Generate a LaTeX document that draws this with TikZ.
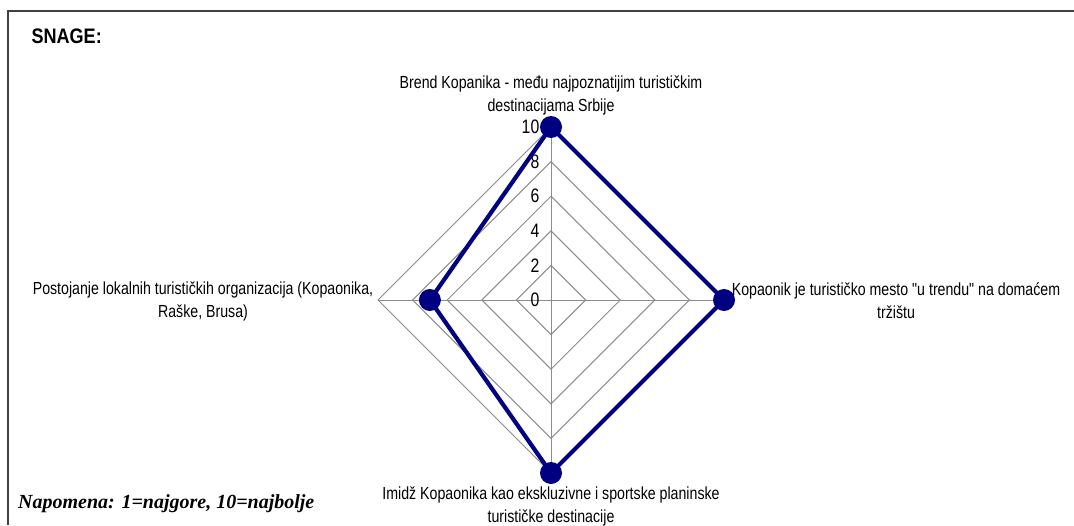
\documentclass[tikz,border=0pt]{standalone}
\usepackage{fontspec}
\newfontfamily\chartsans[FakeStretch=0.81]{Liberation Sans}
\newfontfamily\titlesans[FakeStretch=0.86]{Liberation Sans Bold}
\newfontfamily\noteserif{Liberation Serif}
\definecolor{navyline}{RGB}{0,0,128}
\definecolor{gridgray}{RGB}{140,140,140}
\definecolor{framegray}{RGB}{64,64,64}
\begin{document}
\begin{tikzpicture}[x=1pt,y=-1pt,
  gridline/.style={draw=gridgray, line width=1pt},
  series/.style={draw=navyline, line width=4.2pt, line join=round},
  marker/.style={circle, fill=navyline, inner sep=0pt, minimum size=22pt},
  catlabel/.style={font=\chartsans\fontsize{17.5}{23}\selectfont, align=center, inner sep=0pt},
  ticklabel/.style={font=\chartsans\fontsize{19.5}{19.5}\selectfont, anchor=east, inner sep=0pt},
]
\useasboundingbox (0,0) rectangle (1074,525);
% open frame: left and top edges only
\draw[framegray, line width=2pt] (8.3,525) -- (8.3,11) -- (1074,11);

\node[font=\titlesans\fontsize{21}{21}\selectfont, anchor=base east, inner sep=0pt] (title) at (102,43.3) {SNAGE:};

\begin{scope}[shift={(551,300)}]
  % radar grid, one diamond every 2 units (17.3pt per unit)
  \foreach \k in {2,4,6,8,10}{
    \pgfmathsetmacro\r{17.3*\k}
    \draw[gridline] (0,-\r) -- (\r,0) -- (0,\r) -- (-\r,0) -- cycle;
  }
  \draw[gridline] (0,-173) -- (0,173);
  \draw[gridline] (-173,0) -- (173,0);
  % scale values along the upper axis
  \foreach \k in {0,2,4,6,8,10}{
    \pgfmathsetmacro\r{17.3*\k}
    \node[ticklabel] (tick\k) at (-11.5,-\r) {\k};
  }
  % data series: 10, 10, 10, 7
  \coordinate (pTop) at (0,-173);
  \coordinate (pRight) at (173,0);
  \coordinate (pBottom) at (0,173);
  \coordinate (pLeft) at (-121.1,0);
  \draw[series] (pTop) -- (pRight) -- (pBottom) -- (pLeft) -- cycle;
  \foreach \p in {pTop,pRight,pBottom,pLeft}
    \node[marker] (m\p) at (\p) {};
\end{scope}

% category labels
\node[catlabel] (catTop) at (551,95) {Brend Kopanika - među najpoznatijim turističkim\\destinacijama Srbije};
\node[catlabel] (catRight) at (896,300.5) {Kopaonik je turističko mesto "u trendu" na domaćem\\tržištu};
\node[catlabel] (catBottom) at (551,506.5) {Imidž Kopaonika kao ekskluzivne i sportske planinske\\turističke destinacije};
\node[catlabel] (catLeft) at (203,301) {Postojanje lokalnih turističkih organizacija (Kopaonika,\\Raške, Brusa)};

\node[font=\noteserif\bfseries\itshape\fontsize{20}{20}\selectfont, anchor=base west, inner sep=0pt] (note) at (18,508) {Napomena: 1=najgore, 10=najbolje};
\end{tikzpicture}
\end{document}
